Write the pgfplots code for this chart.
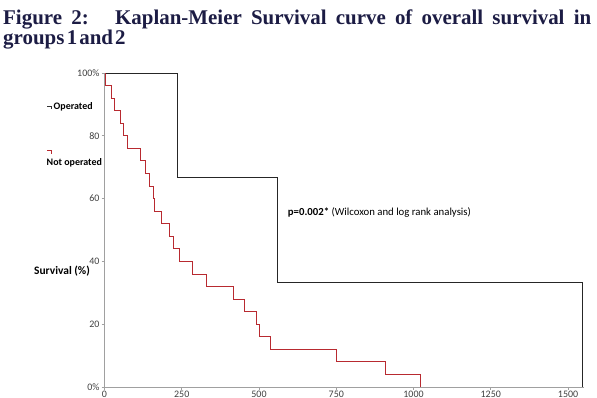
\documentclass[border=0pt]{standalone}
\usepackage{pgfplots}
\pgfplotsset{compat=1.18}
\usepackage{fontspec}
\setmainfont{Carlito}
\newfontfamily\titlefont{Liberation Serif}
\definecolor{navy}{HTML}{1C1C44}
\definecolor{kmred}{HTML}{B82A30}
\definecolor{axgray}{HTML}{A0A0A0}
\definecolor{tickgray}{HTML}{404040}
\begin{document}
\begin{tikzpicture}
\path[use as bounding box] (0,0) rectangle (597bp,398bp);
% title
\node[anchor=base west, inner sep=0pt, text width=588bp, align=justify, text=navy,
      font=\titlefont\bfseries\fontsize{21}{20}\selectfont] at (3bp,373bp)
  {Figure 2:\hspace{0.55em} Kaplan-Meier Survival curve of overall survival in\linebreak
   groups\hspace{2.5bp}1\hspace{2bp}and\hspace{2bp}2};
% legend-like labels
\draw[black!80, line width=0.7pt] (47bp,291.5bp) -- (51.5bp,291.5bp) -- (51.5bp,288.5bp);
\node[anchor=base west, inner sep=0pt, font=\bfseries\fontsize{10}{12}\selectfont] at (53.5bp,288bp)
  {Operated};
\draw[kmred, line width=0.7pt] (47bp,247.5bp) -- (51.5bp,247.5bp) -- (51.5bp,244bp);
\node[anchor=base west, inner sep=0pt, font=\bfseries\fontsize{10}{12}\selectfont] at (46.5bp,232bp)
  {Not operated};
% y label
\node[font=\bfseries\fontsize{11.5}{14}\selectfont] at (62bp,127bp) {Survival (\%)};
\begin{axis}[
  at={(104.5bp,11bp)}, anchor=south west,
  scale only axis, width=479bp, height=314bp,
  xmin=0, xmax=1550, ymin=0, ymax=100,
  axis lines=left, axis line style={-, axgray, line width=0.9pt},
  xtick={0,250,500,750,1000,1250,1500},
  ytick={0,20,40,60,80,100},
  yticklabels={0\%,20,40,60,80,100\%},
  tick style={axgray, line width=0.6pt},
  major tick length=3bp,
  tick align=outside,
  ticklabel style={font=\fontsize{10}{12}\selectfont, text=tickgray},
  /pgf/number format/assume math mode=true,
  scaled x ticks=false,
  xticklabel style={/pgf/number format/1000 sep={}, yshift=2bp},
  yticklabel style={xshift=1.5bp},
  clip=false,
]
\addplot[const plot, color=black!85, line width=0.85pt] coordinates {
 (0,100) (235,66.7) (561,33.3) (1545,0)
};
\addplot[const plot, color=kmred, line width=0.9pt] coordinates {
 (0,100) (2,96) (23,92) (33,88) (50,84) (61,80) (75,76) (115,72) (131,68) (144,64)
 (160,60) (162,56) (183,52) (210,48) (222,44) (241,40) (285,36) (330,32) (416,28)
 (454,24) (492,20) (500,16) (538,12) (751,8) (910,4) (1022,0)
};
\node[anchor=west, inner sep=0pt, font=\fontsize{10.8}{12}\selectfont] at (axis cs:593,55.7)
  {\textbf{p=0.002*} (Wilcoxon and log rank analysis)};
\end{axis}
\end{tikzpicture}
\end{document}
